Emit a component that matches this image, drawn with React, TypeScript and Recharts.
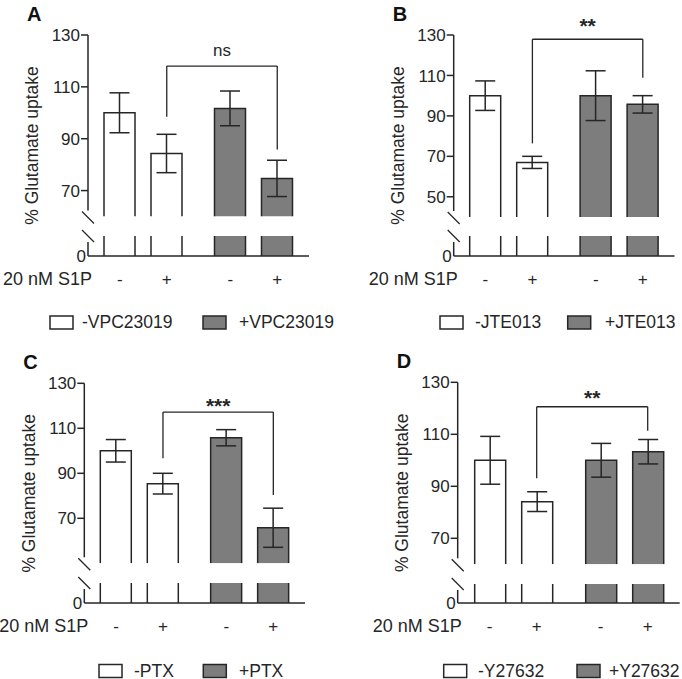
import React from "react";
import { BarChart, Bar, XAxis, YAxis, Cell, ErrorBar, ReferenceLine } from "recharts";

const INK = "#262626";
const FONT = "'Liberation Sans', Arial, Helvetica, sans-serif";

const GROUPS = ["ctrl", "drug"];
const GROUP_FILLS = ["#ffffff", "#7d7d7d"];
const S1P_TICKS = ["-", "+"];
const X_TITLE = "20 nM S1P";
const Y_TITLE = "% Glutamate uptake";
const LOW_TICKS = [0, 10];

// A: VPC23019
const A_LEGEND = ["-VPC23019", "+VPC23019"];
const A_TICKS = [60, 70, 90, 110, 130];
const A_NO_S1P = [100, 101.7];
const A_NO_S1P_ERR = [7.7, 6.7];
const A_S1P = [84.3, 74.7];
const A_S1P_ERR = [7.4, 7.0];
const A_BRACKET = [118, 98.5, 85.8]; // top, left leg end, right leg end
const A_SIG = "ns";

// B: JTE013
const B_LEGEND = ["-JTE013", "+JTE013"];
const B_TICKS = [40, 50, 70, 90, 110, 130];
const B_NO_S1P = [100, 100];
const B_NO_S1P_ERR = [7.3, 12.3];
const B_S1P = [67, 95.7];
const B_S1P_ERR = [3.0, 4.3];
const B_BRACKET = [127.9, 76.4, 108.9];
const B_SIG = "**";

// C: PTX
const C_LEGEND = ["-PTX", "+PTX"];
const C_TICKS = [50, 70, 90, 110, 130];
const C_NO_S1P = [100, 105.8];
const C_NO_S1P_ERR = [5.0, 3.6];
const C_S1P = [85.4, 65.8];
const C_S1P_ERR = [4.6, 8.7];
const C_BRACKET = [117.2, 96.7, 80.4];
const C_SIG = "***";

// D: Y27632
const D_LEGEND = ["-Y27632", "+Y27632"];
const D_TICKS = [60, 70, 90, 110, 130];
const D_NO_S1P = [100, 100];
const D_NO_S1P_ERR = [9.2, 6.5];
const D_S1P = [84.1, 103.3];
const D_S1P_ERR = [3.8, 4.7];
const D_BRACKET = [120.6, 93.1, 111.4];
const D_SIG = "**";

const PANEL_W = 341;
const PANEL_H = 340;
const BAR_SIZE = 31;
const BAR_GAP = 16;
const HALF = (BAR_SIZE + BAR_GAP) / 2;

const PANELS = [
  {
    letter: "A", left: 0, top: 0, axisX: 88, plotRight: 309, yTop: 35, yBreak: 216.5, lowTop: 236, zeroY: 256,
    ticks: A_TICKS, minus: A_NO_S1P, minusErr: A_NO_S1P_ERR, plus: A_S1P, plusErr: A_S1P_ERR,
    bracket: A_BRACKET, sig: A_SIG, sigDy: -10, sigSize: 17, sigBold: false,
    legend: A_LEGEND, legendX: [[50, 82], [203, 239]], legendY: 316,
  },
  {
    letter: "B", left: 341, top: 0, axisX: 112.7, plotRight: 333.5, yTop: 35, yBreak: 217, lowTop: 236, zeroY: 256,
    ticks: B_TICKS, minus: B_NO_S1P, minusErr: B_NO_S1P_ERR, plus: B_S1P, plusErr: B_S1P_ERR,
    bracket: B_BRACKET, sig: B_SIG, sigDy: -6, sigSize: 21, sigBold: true,
    legend: B_LEGEND, legendX: [[99, 134], [226.7, 264]], legendY: 316,
  },
  {
    letter: "C", left: 0, top: 340, axisX: 84.3, plotRight: 305, yTop: 43.3, yBreak: 223.3, lowTop: 243.3, zeroY: 263.3,
    ticks: C_TICKS, minus: C_NO_S1P, minusErr: C_NO_S1P_ERR, plus: C_S1P, plusErr: C_S1P_ERR,
    bracket: C_BRACKET, sig: C_SIG, sigDy: 1, sigSize: 21, sigBold: true,
    legend: C_LEGEND, legendX: [[99, 134], [203.3, 239]], legendY: 324.5,
  },
  {
    letter: "D", left: 341, top: 340, axisX: 116.7, plotRight: 338.7, yTop: 42.3, yBreak: 224.3, lowTop: 244.3, zeroY: 263.3,
    ticks: D_TICKS, minus: D_NO_S1P, minusErr: D_NO_S1P_ERR, plus: D_S1P, plusErr: D_S1P_ERR,
    bracket: D_BRACKET, sig: D_SIG, sigDy: -2, sigSize: 21, sigBold: true,
    legend: D_LEGEND, legendX: [[102.7, 137], [236, 268]], legendY: 324.5,
  },
];

// upper part of a broken bar: open at the bottom
const UpperBar = (props: any) => {
  const { x, y, width, height, fill } = props;
  if (width == null || height == null) return null;
  return (
    <g>
      <rect x={x} y={y} width={width} height={height} fill={fill} />
      <path
        d={`M${x},${y + height} L${x},${y} L${x + width},${y} L${x + width},${y + height}`}
        fill="none" stroke={INK} strokeWidth={1.5}
      />
    </g>
  );
};

// lower stub of a broken bar: sides only
const LowerBar = (props: any) => {
  const { x, y, width, height, fill } = props;
  if (width == null || height == null) return null;
  return (
    <g>
      <rect x={x} y={y} width={width} height={height} fill={fill} />
      <line x1={x} y1={y} x2={x} y2={y + height} stroke={INK} strokeWidth={1.5} />
      <line x1={x + width} y1={y} x2={x + width} y2={y + height} stroke={INK} strokeWidth={1.5} />
    </g>
  );
};

const UpperTick = (props: any) => {
  const { x, y, payload, breakAt } = props;
  if (payload.value === breakAt) {
    return (
      <g>
        <rect x={x - 2} y={y - 6} width={4} height={7} fill="#fff" />
        <line x1={x - 6} y1={y - 5} x2={x + 6} y2={y + 7} stroke={INK} strokeWidth={1.3} />
      </g>
    );
  }
  return (
    <g>
      <line x1={x - 7} y1={y} x2={x} y2={y} stroke={INK} strokeWidth={1.5} />
      <text x={x - 8} y={y} dy="0.36em" textAnchor="end" fontSize={17} fill={INK}>
        {payload.value}
      </text>
    </g>
  );
};

const LowerTick = (props: any) => {
  const { x, y, payload } = props;
  if (payload.value === LOW_TICKS[0]) {
    return (
      <text x={x - 2} y={y} dy="0.36em" textAnchor="end" fontSize={17} fill={INK}>
        {payload.value}
      </text>
    );
  }
  return (
    <g>
      <rect x={x - 2} y={y - 1} width={4} height={7} fill="#fff" />
      <line x1={x - 6} y1={y - 6} x2={x + 6} y2={y + 6} stroke={INK} strokeWidth={1.3} />
    </g>
  );
};

const S1PTick = (props: any) => {
  const { x, y } = props;
  return (
    <g>
      {S1P_TICKS.map((t, i) => (
        <text key={t} x={x + (i === 0 ? -HALF : HALF)} y={y + 29} textAnchor="middle" fontSize={17} fill={INK}>
          {t}
        </text>
      ))}
    </g>
  );
};

const bracketShape = (label?: string, dy = 0, size = 17, bold = false) => (lp: any) => {
  const { x1, y1, x2, y2 } = lp;
  if (x1 == null || y1 == null) return <g />;
  return (
    <g>
      <line x1={x1 + HALF} y1={y1} x2={x2 + HALF} y2={y2} stroke={INK} strokeWidth={1.3} />
      {label ? (
        <text
          x={(x1 + x2) / 2 + HALF} y={y1 + dy} textAnchor="middle"
          fontSize={size} fontWeight={bold ? "bold" : "normal"} fill={INK}
        >
          {label}
        </text>
      ) : null}
    </g>
  );
};

function Panel({ p }: { p: any }) {
  const rows = GROUPS.map((g, i) => ({
    group: g,
    minus: p.minus[i],
    minusErr: p.minusErr[i],
    plus: p.plus[i],
    plusErr: p.plusErr[i],
  }));
  const right = PANEL_W - p.plotRight;
  const upperH = p.yBreak + 12;
  const lowH = 10 + (p.zeroY - p.lowTop) + 46;
  const axisLine = { stroke: INK, strokeWidth: 1.5 };
  const cells = rows.map((_, i) => <Cell key={`c-${i}`} fill={GROUP_FILLS[i]} />);
  const [bTop, bLeft, bRight] = p.bracket;

  return (
    <div style={{ position: "absolute", left: p.left, top: p.top, width: PANEL_W, height: PANEL_H }}>
      <div style={{ position: "absolute", left: 0, top: 0 }}>
        <BarChart
          width={PANEL_W} height={upperH} data={rows}
          margin={{ top: p.yTop, right, bottom: 12, left: 0 }}
          barSize={BAR_SIZE} barGap={BAR_GAP}
        >
          <XAxis dataKey="group" hide />
          <YAxis
            type="number" domain={[p.ticks[0], 130]} ticks={p.ticks} allowDataOverflow
            width={p.axisX} tickSize={0} tickMargin={0} tickLine={false} interval={0}
            axisLine={axisLine}
            tick={(t: any) => <UpperTick {...t} breakAt={p.ticks[0]} />}
          />
          <Bar dataKey="minus" shape={UpperBar} isAnimationActive={false}>
            {cells}
            <ErrorBar dataKey="minusErr" width={10} stroke={INK} strokeWidth={1.5} isAnimationActive={false} />
          </Bar>
          <Bar dataKey="plus" shape={UpperBar} isAnimationActive={false}>
            {cells}
            <ErrorBar dataKey="plusErr" width={10} stroke={INK} strokeWidth={1.5} isAnimationActive={false} />
          </Bar>
          <ReferenceLine
            segment={[{ x: GROUPS[0], y: bTop }, { x: GROUPS[1], y: bTop }]}
            shape={bracketShape(p.sig, p.sigDy, p.sigSize, p.sigBold)}
          />
          <ReferenceLine
            segment={[{ x: GROUPS[0], y: bLeft }, { x: GROUPS[0], y: bTop }]}
            shape={bracketShape()}
          />
          <ReferenceLine
            segment={[{ x: GROUPS[1], y: bRight }, { x: GROUPS[1], y: bTop }]}
            shape={bracketShape()}
          />
        </BarChart>
      </div>
      <div style={{ position: "absolute", left: 0, top: p.lowTop - 10 }}>
        <BarChart
          width={PANEL_W} height={lowH} data={rows}
          margin={{ top: 10, right, bottom: 0, left: 0 }}
          barSize={BAR_SIZE} barGap={BAR_GAP}
        >
          <XAxis
            dataKey="group" height={46} tickSize={0} tickMargin={0} tickLine={false} interval={0}
            axisLine={axisLine} tick={S1PTick}
            label={{ value: X_TITLE, position: "left", offset: -4, fill: INK, fontSize: 18 }}
          />
          <YAxis
            type="number" domain={LOW_TICKS} ticks={LOW_TICKS} allowDataOverflow
            width={p.axisX} tickSize={0} tickMargin={0} tickLine={false} interval={0}
            axisLine={axisLine} tick={LowerTick}
          />
          <Bar dataKey="minus" shape={LowerBar} isAnimationActive={false}>
            {cells}
          </Bar>
          <Bar dataKey="plus" shape={LowerBar} isAnimationActive={false}>
            {cells}
          </Bar>
        </BarChart>
      </div>
      <svg
        width={PANEL_W} height={PANEL_H}
        style={{ position: "absolute", left: 0, top: 0, pointerEvents: "none", overflow: "visible" }}
      >
        <text x={p.axisX - 61} y={p.yTop - 14.5} fontSize={20} fontWeight="bold" fill="#111">
          {p.letter}
        </text>
        <text
          transform={`translate(${p.axisX - 55},${(p.yTop + p.zeroY) / 2}) rotate(-90)`}
          textAnchor="middle" dy="0.3em" fontSize={17.5} fill={INK}
        >
          {Y_TITLE}
        </text>
        {p.legend.map((name: string, i: number) => (
          <g key={name}>
            <rect
              x={p.legendX[i][0]} y={p.legendY} width={23} height={13}
              fill={GROUP_FILLS[i]} stroke={INK} strokeWidth={1.5}
            />
            <text x={p.legendX[i][1]} y={p.legendY + 12} fontSize={17.5} fill={INK}>
              {name}
            </text>
          </g>
        ))}
      </svg>
    </div>
  );
}

export default function App() {
  return (
    <div
      style={{
        position: "absolute", left: 0, top: 0, width: 682, height: 679,
        background: "#fff", fontFamily: FONT, overflow: "hidden",
      }}
    >
      {PANELS.map((p) => (
        <Panel key={p.letter} p={p} />
      ))}
    </div>
  );
}
